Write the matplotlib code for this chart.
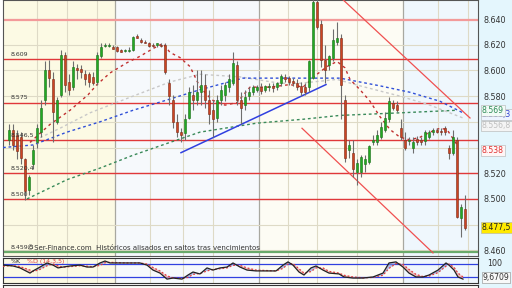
import numpy as np
import matplotlib
matplotlib.use('Agg')
import matplotlib.pyplot as plt
from matplotlib.patches import Rectangle

# candle data (one per bar)
opens = [8.546, 8.554, 8.550, 8.548, 8.531, 8.507, 8.527, 8.544, 8.552, 8.577,
         8.600, 8.593, 8.560, 8.581, 8.612, 8.591, 8.587, 8.602, 8.601, 8.597,
         8.597, 8.595, 8.591, 8.611, 8.619, 8.619, 8.618, 8.618, 8.616, 8.615,
         8.615, 8.616, 8.627, 8.624, 8.622, 8.621, 8.620, 8.620, 8.620, 8.620,
         8.590, 8.577, 8.560, 8.552, 8.551, 8.563, 8.581, 8.577, 8.583, 8.589,
         8.577, 8.569, 8.563, 8.577, 8.581, 8.587, 8.590, 8.604, 8.577, 8.573,
         8.580, 8.583, 8.585, 8.587, 8.585, 8.587, 8.588, 8.587, 8.590, 8.595,
         8.594, 8.592, 8.590, 8.588, 8.587, 8.587, 8.594, 8.653, 8.636, 8.608,
         8.604, 8.610, 8.622, 8.625, 8.577, 8.538, 8.536, 8.521, 8.521, 8.527,
         8.529, 8.544, 8.544, 8.548, 8.554, 8.562, 8.575, 8.573, 8.555, 8.546,
         8.545, 8.540, 8.547, 8.546, 8.545, 8.548, 8.552, 8.554, 8.553, 8.555,
         8.540, 8.536, 8.546, 8.485, 8.492]
highs = [8.558, 8.558, 8.554, 8.552, 8.532, 8.519, 8.542, 8.558, 8.577, 8.607,
         8.608, 8.599, 8.579, 8.616, 8.614, 8.597, 8.607, 8.605, 8.604, 8.600,
         8.599, 8.599, 8.614, 8.621, 8.621, 8.621, 8.620, 8.619, 8.617, 8.617,
         8.618, 8.627, 8.628, 8.625, 8.624, 8.622, 8.621, 8.621, 8.621, 8.621,
         8.593, 8.581, 8.566, 8.555, 8.566, 8.587, 8.589, 8.600, 8.600, 8.597,
         8.585, 8.577, 8.581, 8.589, 8.591, 8.597, 8.614, 8.607, 8.583, 8.585,
         8.587, 8.589, 8.589, 8.590, 8.589, 8.590, 8.590, 8.591, 8.597, 8.597,
         8.596, 8.594, 8.593, 8.591, 8.590, 8.608, 8.659, 8.659, 8.639, 8.620,
         8.612, 8.632, 8.638, 8.628, 8.581, 8.546, 8.546, 8.531, 8.534, 8.534,
         8.542, 8.550, 8.554, 8.560, 8.568, 8.579, 8.577, 8.576, 8.562, 8.552,
         8.548, 8.548, 8.549, 8.548, 8.554, 8.554, 8.555, 8.555, 8.555, 8.557,
         8.542, 8.554, 8.548, 8.496, 8.503]
lows = [8.542, 8.538, 8.531, 8.527, 8.499, 8.503, 8.523, 8.540, 8.548, 8.573,
        8.587, 8.544, 8.558, 8.579, 8.583, 8.581, 8.585, 8.593, 8.594, 8.589,
        8.587, 8.589, 8.589, 8.610, 8.618, 8.618, 8.617, 8.614, 8.614, 8.614,
        8.614, 8.615, 8.625, 8.621, 8.621, 8.618, 8.618, 8.618, 8.618, 8.597,
        8.573, 8.555, 8.548, 8.544, 8.546, 8.562, 8.569, 8.573, 8.573, 8.571,
        8.558, 8.548, 8.560, 8.573, 8.576, 8.583, 8.589, 8.573, 8.558, 8.569,
        8.577, 8.581, 8.583, 8.582, 8.583, 8.584, 8.583, 8.585, 8.588, 8.591,
        8.589, 8.588, 8.585, 8.580, 8.581, 8.583, 8.593, 8.632, 8.603, 8.590,
        8.600, 8.607, 8.620, 8.562, 8.529, 8.532, 8.517, 8.511, 8.517, 8.521,
        8.527, 8.542, 8.542, 8.547, 8.552, 8.560, 8.569, 8.568, 8.546, 8.538,
        8.542, 8.536, 8.542, 8.542, 8.542, 8.547, 8.550, 8.551, 8.550, 8.550,
        8.531, 8.534, 8.485, 8.470, 8.476]
closes = [8.554, 8.542, 8.537, 8.532, 8.506, 8.517, 8.538, 8.555, 8.571, 8.600,
          8.594, 8.568, 8.577, 8.612, 8.589, 8.585, 8.603, 8.600, 8.599, 8.593,
          8.591, 8.590, 8.612, 8.618, 8.620, 8.619, 8.617, 8.615, 8.614, 8.616,
          8.616, 8.626, 8.625, 8.622, 8.621, 8.619, 8.619, 8.621, 8.619, 8.599,
          8.580, 8.560, 8.552, 8.550, 8.562, 8.583, 8.577, 8.583, 8.589, 8.577,
          8.566, 8.562, 8.577, 8.585, 8.589, 8.593, 8.606, 8.577, 8.571, 8.579,
          8.583, 8.587, 8.587, 8.584, 8.588, 8.588, 8.586, 8.590, 8.596, 8.593,
          8.591, 8.590, 8.587, 8.583, 8.583, 8.607, 8.653, 8.634, 8.608, 8.600,
          8.611, 8.624, 8.625, 8.589, 8.532, 8.542, 8.523, 8.528, 8.533, 8.531,
          8.541, 8.546, 8.550, 8.556, 8.563, 8.576, 8.571, 8.569, 8.548, 8.540,
          8.546, 8.544, 8.544, 8.544, 8.552, 8.552, 8.554, 8.552, 8.552, 8.552,
          8.536, 8.548, 8.486, 8.494, 8.4775]

# moving averages (bar position, price)
ma_red_x = [5.25, 10.25, 15.25, 19.75, 22, 25.25, 29.5, 32.75, 36, 38.5, 40.25, 42.75,
            45.25, 47.75, 50.75, 54, 57, 60.25, 65.25, 70.25, 73.5, 77, 79.5, 82, 84,
            85.25, 87.75, 90.25, 92.75, 95.25, 97.75, 100.25, 102.75, 105.25, 107.75,
            109.5, 112.25]
ma_red_y = [8.544, 8.558, 8.569, 8.581, 8.589, 8.598, 8.606, 8.611, 8.617, 8.621, 8.614,
            8.610, 8.603, 8.587, 8.577, 8.573, 8.575, 8.587, 8.587, 8.589, 8.587, 8.597,
            8.603, 8.607, 8.602, 8.593, 8.585, 8.576, 8.564, 8.554, 8.548, 8.546, 8.548,
            8.552, 8.555, 8.554, 8.541]
ma_gray_x = [5.25, 12.75, 20.25, 31, 40.25, 47.75, 57.75, 67.75, 72.75, 82, 87.75,
             97.75, 105.25, 113.5]
ma_gray_y = [8.544, 8.555, 8.567, 8.580, 8.591, 8.597, 8.595, 8.590, 8.590, 8.593,
             8.588, 8.580, 8.573, 8.563]
ma_blue_x = [-1.5, 6, 14.5, 22.75, 31, 39.5, 47.75, 58.5, 72.75, 82.75, 92.75, 100.25,
             107.75, 113.5]
ma_blue_y = [8.540, 8.542, 8.552, 8.560, 8.569, 8.577, 8.585, 8.594, 8.594, 8.594,
             8.588, 8.583, 8.576, 8.567]
ma_green_x = [4.5, 14.5, 22.75, 31, 40.25, 47.75, 62, 73.5, 82.75, 97.75, 112]
ma_green_y = [8.500, 8.515, 8.524, 8.534, 8.544, 8.552, 8.559, 8.562, 8.565, 8.567, 8.569]

# drawn lines
support_levels = [8.609, 8.575, 8.546, 8.520, 8.500]
resistance_top = 8.639
bottom_level = 8.4585
trend_up = ([43, 79.25], [8.536, 8.589])
channel_hi = ([83.5, 115.25], [8.655, 8.563])
channel_lo = ([73.25, 106], [8.555, 8.458])

# stochastic
stoch_x = [-1.5, 1, 2.75, 5.25, 6, 7.75, 9.5, 11, 12.25, 13.5, 15.25, 17.75, 19.5, 21,
           22.75, 24, 25.25, 27.75, 29.5, 32.75, 34.5, 36, 37.75, 39.5, 41, 43.25, 44.75,
           46, 47.75, 49.5, 51, 52.75, 54.5, 56, 57.75, 59.5, 61.75, 66.75, 68.5, 69.75,
           71, 72.5, 73.75, 75.5, 76.75, 78.5, 80, 82.5, 83.75, 86, 88.5, 91, 93.5, 95,
           96.75, 98.5, 100, 101.75, 103.5, 105, 107.25, 109.25, 110, 111.25, 112.25, 113.5]
stoch_k = [75, 71, 62, 38, 48, 66, 85, 75, 62, 66, 71, 75, 66, 66, 85, 94, 85, 85, 85, 85,
           75, 52, 38, 10, 15, 10, 29, 43, 34, 62, 52, 62, 66, 85, 66, 52, 48, 48, 75, 90,
           75, 43, 29, 62, 71, 52, 38, 34, 20, 15, 15, 20, 38, 85, 90, 66, 38, 20, 20, 29,
           52, 85, 75, 52, 20, 10]
stoch_d = [70, 73, 68, 52, 45, 55, 72, 80, 72, 65, 68, 72, 70, 67, 74, 86, 88, 86, 85, 85,
           80, 64, 48, 25, 16, 13, 18, 32, 36, 48, 55, 58, 62, 74, 74, 62, 52, 48, 60, 80,
           82, 58, 38, 45, 62, 62, 46, 38, 28, 20, 16, 18, 28, 60, 82, 78, 55, 32, 22, 24,
           40, 70, 80, 65, 38, 20]

W, H = 512, 288
fig = plt.figure(figsize=(W / 100, H / 100), dpi=100)
fig.patch.set_facecolor('white')
fig.add_artist(Rectangle((478 / W, 0), 34 / W, 1, transform=fig.transFigure,
                         facecolor='#e4f6fd', edgecolor='none', zorder=0))

x_min, x_max = -1.5, 117.25
y_min, y_max = 8.4556, 8.6548
bands = [(-1.5, 26.5, '#fcfae4'), (26.5, 62.5, '#f6f9fc'),
         (62.5, 98.5, '#fdfcf4'), (98.5, 117.25, '#eff7fd')]
grid_x = [7, 14.5, 22, 35.25, 43.5, 51, 69.75, 77, 87, 107.25, 114.75]
sep_x = [26.5, 62.5, 98.5]

ax = fig.add_axes([3 / W, 1 - 256 / H, 475 / W, 256 / H])
ax.set_xlim(x_min, x_max)
ax.set_ylim(y_min, y_max)
for a, b, col in bands:
    ax.axvspan(a, b, color=col, zorder=0, lw=0)
for gx in grid_x:
    ax.axvline(gx, color='#dedac6', lw=0.8, zorder=1)
for sx in sep_x:
    ax.axvline(sx, color='#a8a8a0', lw=0.9, zorder=1)
for gy in np.arange(8.46, 8.641, 0.02):
    ax.axhline(gy, color='#dedac6', lw=0.8, zorder=1)

ax.axhline(resistance_top, color='#f39a9a', lw=1.6, zorder=2)
for lvl in support_levels:
    ax.axhline(lvl, color='#e0383a', lw=1.0, zorder=2)
ax.axhline(bottom_level, color='#6aaa6a', lw=1.6, zorder=2)

ax.plot(ma_green_x, ma_green_y, color='#3a8a5a', lw=1.0, ls=(0, (2, 2)), zorder=3)
ax.plot(ma_gray_x, ma_gray_y, color='#c8c8c8', lw=1.0, ls=(0, (2, 2)), zorder=3)
ax.plot(ma_blue_x, ma_blue_y, color='#3050d8', lw=1.0, ls=(0, (2, 2)), zorder=3)
ax.plot(ma_red_x, ma_red_y, color='#c03030', lw=1.0, ls=(0, (2, 2.5)), zorder=3)

ax.plot(*trend_up, color='#3040e0', lw=1.1, zorder=3)
ax.plot(*channel_hi, color='#f05050', lw=0.9, zorder=3)
ax.plot(*channel_lo, color='#f05050', lw=0.9, zorder=3)

idx = np.arange(len(opens))
o = np.array(opens)
c = np.array(closes)
up = c >= o
body_lo = np.minimum(o, c)
body_h = np.maximum(np.abs(c - o), 0.0006)
ax.vlines(idx, lows, highs, color='#6e6e6e', lw=0.8, zorder=4)
ax.bar(idx[up], body_h[up], bottom=body_lo[up], width=0.72,
       color='#22aa22', edgecolor='#1a6e1a', lw=0.4, zorder=5)
ax.bar(idx[~up], body_h[~up], bottom=body_lo[~up], width=0.72,
       color='#cc4422', edgecolor='#7a2a18', lw=0.4, zorder=5)

# price labels inside the plot on the left
left_labels = [(8.609, '8.609'), (8.575, '8.575'), (8.546, '8.546,5'),
               (8.520, '8.520,4'), (8.500, '8.500'), (8.4585, '8.459,5')]
for val, txt in left_labels:
    ax.text(0.5, val + 0.0025, txt, fontsize=4.5, color='#333333', zorder=6)
ax.text(4.5, 8.4605, '\u00a9Ser-Finance.com  Hist\u00f3ricos alisados en saltos tras vencimientos',
        fontsize=5, color='#333333', zorder=6)

ax.yaxis.tick_right()
ticks = [8.46, 8.50, 8.52, 8.58, 8.60, 8.62, 8.64]
ax.set_yticks(ticks)
ax.set_yticklabels([f'{t:.3f}' for t in ticks], fontsize=5.8, color='#333333')
ax.tick_params(axis='y', length=0, pad=4)
ax.set_xticks([])
for s in ax.spines.values():
    s.set_color('#555555')
    s.set_linewidth(0.8)

# value boxes on the price scale (later ones drawn on top)
boxes = [(8.5655, '8.566,3', '#3344cc', '#eef4ff'), (8.569, '8.569', '#2e8b57', '#f2fbf6'),
         (8.5568, '8.556,8', '#c0c0c0', '#f4f4f4'), (8.538, '8.538', '#e03030', '#fff6f6'),
         (8.4775, '8.477,5', '#222222', '#ffea00')]
for z, (val, txt, fc, bc) in enumerate(boxes):
    ax.text(1.008, val, txt, transform=ax.get_yaxis_transform(), fontsize=5.6, color=fc,
            va='center', ha='left', clip_on=False, zorder=7 + z,
            bbox=dict(boxstyle='square,pad=0.12', fc=bc, ec='#b0b0b0', lw=0.4))

# stochastic panel
ax2 = fig.add_axes([3 / W, 1 - 283 / H, 475 / W, 25 / H])
ax2.set_xlim(x_min, x_max)
ax2.set_ylim(-8, 108)
for a, b, col in bands:
    ax2.axvspan(a, b, color=col, zorder=0, lw=0)
for gx in grid_x:
    ax2.axvline(gx, color='#dedac6', lw=0.8, zorder=1)
for sx in sep_x:
    ax2.axvline(sx, color='#a8a8a0', lw=0.9, zorder=1)
ax2.axhline(80, color='#3040e0', lw=0.9, zorder=2)
ax2.axhline(20, color='#3040e0', lw=0.9, zorder=2)
k = np.array(stoch_k, float)
d = np.array(stoch_d, float)
ax2.fill_between(stoch_x, k, d, where=k >= d, interpolate=True, color='#8090d8',
                 alpha=0.6, lw=0, zorder=3)
ax2.fill_between(stoch_x, k, d, where=k < d, interpolate=True, color='#f2a0a0',
                 alpha=0.7, lw=0, zorder=3)
ax2.plot(stoch_x, d, color='#e04040', lw=0.9, ls=(0, (1.5, 1.5)), zorder=4)
ax2.plot(stoch_x, k, color='#222222', lw=0.9, zorder=5)
ax2.text(0.5, 84, '%K', fontsize=4.5, color='#222222', zorder=6)
ax2.text(4.5, 84, '%D (14,3,5)', fontsize=4.5, color='#e04040', zorder=6)
ax2.set_xticks([])
ax2.set_yticks([])
for s in ax2.spines.values():
    s.set_color('#333333')
    s.set_linewidth(0.8)
ax2.text(1.02, 0.78, '100', transform=ax2.transAxes, fontsize=5.8, color='#333333',
         va='center', clip_on=False)
ax2.text(1.01, 0.22, '9,6709', transform=ax2.transAxes, fontsize=5.6, color='#333333',
         va='center', clip_on=False,
         bbox=dict(boxstyle='square,pad=0.12', fc='#f8f8f8', ec='#888888', lw=0.4))

# next panel (cut off)
ax3 = fig.add_axes([3 / W, -0.05, 475 / W, 0.05 + 3 / H])
ax3.set_xlim(x_min, x_max)
ax3.set_xticks([])
ax3.set_yticks([])
ax3.set_facecolor('#fcfcf8')
for s in ax3.spines.values():
    s.set_color('#333333')
    s.set_linewidth(0.8)

fig.savefig('out.png', dpi=100)
